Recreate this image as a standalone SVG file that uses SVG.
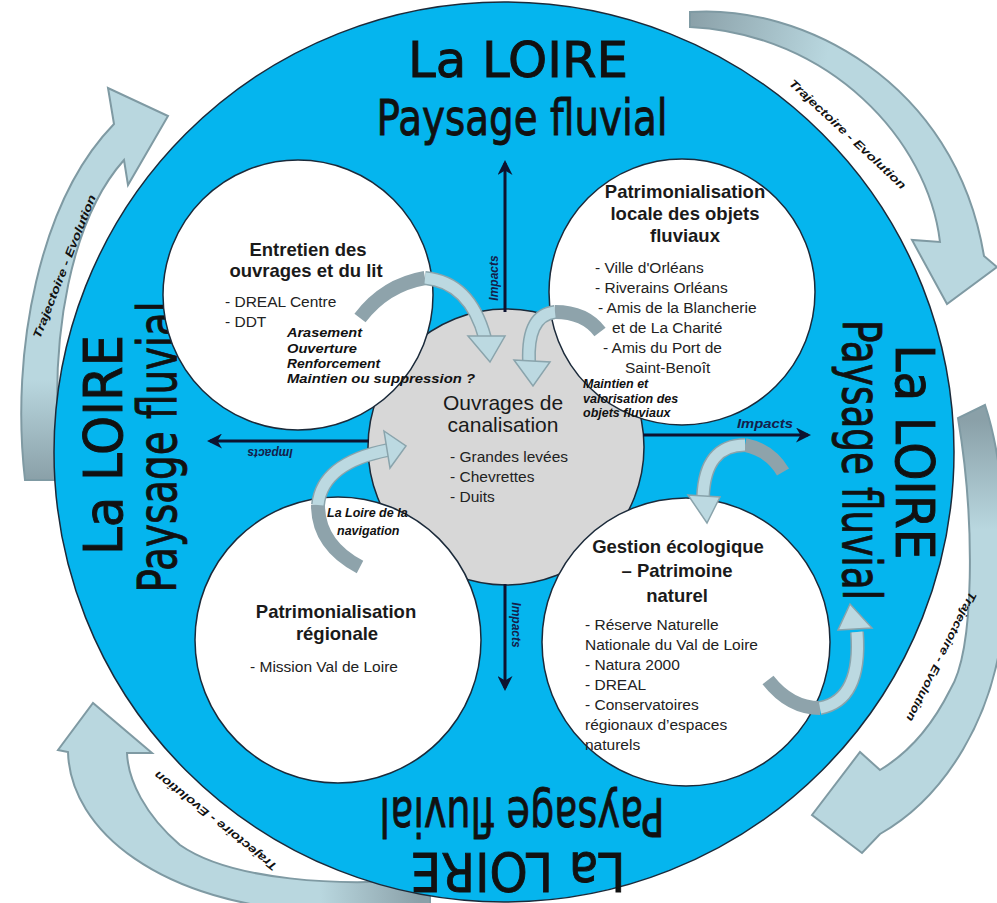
<svg xmlns="http://www.w3.org/2000/svg" width="997" height="903" viewBox="0 0 997 903">
<style>
.big{font-family:"DejaVu Sans","Liberation Sans",sans-serif;font-size:54px;fill:#111;stroke:#111;stroke-width:0.9;}
.bigt{font-family:"DejaVu Sans","Liberation Sans",sans-serif;font-size:50px;fill:#111;stroke:#111;stroke-width:0.9;}
.hd{font-family:"Liberation Sans",Arial,sans-serif;font-weight:bold;font-size:18.5px;fill:#1a1a1a;}
.ls{font-family:"Liberation Sans",Arial,sans-serif;font-size:15.5px;fill:#222;}
.it{font-family:"Liberation Sans",Arial,sans-serif;font-weight:bold;font-style:italic;font-size:12.5px;fill:#111;}
.imp{font-family:"Liberation Sans",Arial,sans-serif;font-weight:bold;font-style:italic;font-size:12px;fill:#14204a;}
.traj{font-family:"Liberation Sans",Arial,sans-serif;font-weight:bold;font-style:italic;font-size:11.5px;fill:#111;}
.circ{fill:#fff;stroke:#1b2a3a;stroke-width:1.5;}
.oarr{stroke:#7f9aa3;stroke-width:2;}
.ln{stroke:#0d1330;stroke-width:3;fill:none;}
.dk{fill:none;stroke:#8ea3ab;stroke-width:14;}
.lo{fill:none;stroke:#8aa4ac;stroke-width:14;}
.lt{fill:none;stroke:#bcd9e1;stroke-width:11;}
.hdarr{fill:#bcd9e1;stroke:#8aa4ac;stroke-width:1.5;}
</style>
<defs>
<linearGradient id="gTR" gradientUnits="userSpaceOnUse" x1="690" y1="15" x2="830" y2="45"><stop offset="0" stop-color="#8aa0a8"/><stop offset="1" stop-color="#b9d7df"/></linearGradient>
<linearGradient id="gL" gradientUnits="userSpaceOnUse" x1="40" y1="480" x2="40" y2="380"><stop offset="0" stop-color="#8aa0a8"/><stop offset="1" stop-color="#b9d7df"/></linearGradient>
<linearGradient id="gBL" gradientUnits="userSpaceOnUse" x1="420" y1="890" x2="320" y2="895"><stop offset="0" stop-color="#8aa0a8"/><stop offset="1" stop-color="#b9d7df"/></linearGradient>
<linearGradient id="gBR" gradientUnits="userSpaceOnUse" x1="980" y1="420" x2="980" y2="530"><stop offset="0" stop-color="#8aa0a8"/><stop offset="1" stop-color="#b9d7df"/></linearGradient>
<marker id="ah" viewBox="0 0 10 10" refX="8" refY="5" markerWidth="5" markerHeight="5" orient="auto"><path d="M0,0 L10,5 L0,10 L3,5 Z" fill="#0d1330"/></marker>
</defs>

<g id="outer-arrows">
<path class="oarr" fill="url(#gTR)" d="M690,12 C800,4 955,80 984,256 L997,267 L947,304 L912,240 L940,242 C928,140 830,34 690,27 Z"/>
<path class="oarr" fill="url(#gL)" d="M25,480 C10,350 40,200 114,124 L108,88 L168,116 L128,185 L124,160 C75,215 45,330 62,480 Z"/>
<path class="oarr" fill="url(#gBL)" d="M68,752 C70,830 160,905 320,912 L430,905 L430,878 C340,888 230,880 180,845 C145,815 128,780 127,753 L152,753 L93,703 L58,750 Z"/>
<path class="oarr" fill="url(#gBR)" d="M958,418 C975,520 975,650 950,690 C930,730 905,755 880,770 L860,752 L812,815 L862,853 L880,834 C940,800 1000,720 1005,600 C1008,520 1000,450 985,405 Z"/>
<text class="traj" transform="translate(845,137) rotate(43)" text-anchor="middle" textLength="155" lengthAdjust="spacingAndGlyphs">Trajectoire - Evolution</text>
<text class="traj" transform="translate(68,268) rotate(-68.6)" text-anchor="middle" textLength="153" lengthAdjust="spacingAndGlyphs">Trajectoire - Evolution</text>
<text class="traj" transform="translate(218,818) rotate(218.4)" text-anchor="middle" textLength="153" lengthAdjust="spacingAndGlyphs">Trajectoire - Evolution</text>
<text class="traj" transform="translate(938,655) rotate(116.6)" text-anchor="middle" textLength="143" lengthAdjust="spacingAndGlyphs">Trajectoire - Evolution</text>
</g>

<g id="loire">
<circle cx="504" cy="452" r="450" fill="#05b5ee" stroke="#1b2a3a" stroke-width="1.5"/>
<text class="bigt" x="518" y="77" text-anchor="middle" textLength="220" lengthAdjust="spacingAndGlyphs">La LOIRE</text>
<text class="bigt" x="522" y="135" text-anchor="middle" textLength="291" lengthAdjust="spacingAndGlyphs">Paysage fluvial</text>
<text class="big" transform="translate(122,445) rotate(-90)" text-anchor="middle" textLength="220" lengthAdjust="spacingAndGlyphs">La LOIRE</text>
<text class="big" transform="translate(176,447) rotate(-90)" text-anchor="middle" textLength="291" lengthAdjust="spacingAndGlyphs">Paysage fluvial</text>
<text class="big" transform="translate(896,452) rotate(90)" text-anchor="middle" textLength="215" lengthAdjust="spacingAndGlyphs">La LOIRE</text>
<text class="big" transform="translate(843,460) rotate(90)" text-anchor="middle" textLength="280" lengthAdjust="spacingAndGlyphs">Paysage fluvial</text>
<text class="big" transform="translate(518,853) rotate(180)" text-anchor="middle" textLength="215" lengthAdjust="spacingAndGlyphs">La LOIRE</text>
<text class="big" transform="translate(522,798) rotate(180)" text-anchor="middle" textLength="285" lengthAdjust="spacingAndGlyphs">Paysage fluvial</text>
</g>

<g id="ouvrages">
<circle cx="506" cy="447" r="138" fill="#d7d7d7" stroke="#1b2a3a" stroke-width="1.5"/>
</g>

<g id="entretien">
<circle class="circ" cx="298" cy="295" r="135"/>
</g>
<g id="patrimoine-local">
<circle class="circ" cx="682" cy="292" r="133"/>
</g>
<g id="patrimoine-regional">
<circle class="circ" cx="338" cy="640" r="143"/>
</g>
<g id="gestion">
<circle class="circ" cx="686" cy="642" r="144"/>
</g>

<g id="connectors">
<line class="ln" x1="505" y1="312" x2="505" y2="163" marker-end="url(#ah)"/>
<line class="ln" x1="505" y1="584" x2="505" y2="688" marker-end="url(#ah)"/>
<line class="ln" x1="369" y1="441" x2="210" y2="441" marker-end="url(#ah)"/>
<line class="ln" x1="643" y1="435" x2="808" y2="435" marker-end="url(#ah)"/>
<text class="imp" transform="translate(498,278) rotate(-90)" text-anchor="middle">Impacts</text>
<text class="imp" transform="translate(512,625) rotate(90)" text-anchor="middle">Impacts</text>
<text class="imp" transform="translate(270,449) rotate(180)" text-anchor="middle">Impacts</text>
<text class="imp" x="765" y="428" text-anchor="middle" textLength="56" lengthAdjust="spacingAndGlyphs">Impacts</text>

<path class="dk" d="M360,318 Q385,285 425,278"/>
<path class="lo" d="M425,278 Q470,282 485,338"/>
<path class="lt" d="M425,278 Q470,282 485,338"/>
<polygon class="hdarr" points="468,336 505,336 490,362"/>

<path class="dk" d="M600,332 Q585,312 555,312"/>
<path class="lo" d="M555,312 Q527,315 529,362"/>
<path class="lt" d="M555,312 Q527,315 529,362"/>
<polygon class="hdarr" points="514,360 550,362 533,386"/>

<path class="dk" d="M360,567 Q318,545 318,505"/>
<path class="lo" d="M318,505 Q322,463 388,450"/>
<path class="lt" d="M318,505 Q322,463 388,450"/>
<polygon class="hdarr" points="384,431 406,446 390,468"/>

<path class="dk" d="M783,472 Q770,450 745,445"/>
<path class="lo" d="M745,445 Q705,445 703,497"/>
<path class="lt" d="M745,445 Q705,445 703,497"/>
<polygon class="hdarr" points="688,495 720,497 707,523"/>

<path class="dk" d="M768,680 Q790,708 820,708"/>
<path class="lo" d="M820,708 Q862,700 857,632"/>
<path class="lt" d="M820,708 Q862,700 857,632"/>
<polygon class="hdarr" points="838,630 872,628 850,604"/>
</g>

<g id="labels">
<text class="hd" x="308" y="256" text-anchor="middle">Entretien des</text>
<text class="hd" x="306" y="277" text-anchor="middle">ouvrages et du lit</text>
<text class="ls" x="225" y="307">- DREAL Centre</text>
<text class="ls" x="225" y="327">- DDT</text>
<text class="it" x="287" y="337" textLength="75" lengthAdjust="spacingAndGlyphs">Arasement</text>
<text class="it" x="287" y="353" textLength="70" lengthAdjust="spacingAndGlyphs">Ouverture</text>
<text class="it" x="287" y="368" textLength="93" lengthAdjust="spacingAndGlyphs">Renforcement</text>
<text class="it" x="287" y="383" textLength="188" lengthAdjust="spacingAndGlyphs">Maintien ou suppression ?</text>

<text class="hd" x="685" y="198" text-anchor="middle">Patrimonialisation</text>
<text class="hd" x="685" y="220" text-anchor="middle">locale des objets</text>
<text class="hd" x="685" y="242" text-anchor="middle">fluviaux</text>
<text class="ls" x="595" y="273">- Ville d'Orléans</text>
<text class="ls" x="595" y="293">- Riverains  Orléans</text>
<text class="ls" x="598" y="313">- Amis de la Blancherie</text>
<text class="ls" x="612" y="333">et de La Charité</text>
<text class="ls" x="603" y="353">- Amis du Port de</text>
<text class="ls" x="625" y="373">Saint-Benoît</text>
<text class="it" x="583" y="388">Maintien et</text>
<text class="it" x="583" y="403">valorisation des</text>
<text class="it" x="583" y="417">objets fluviaux</text>

<text style="font-family:'Liberation Sans',Arial,sans-serif;font-size:21px;fill:#1a1a1a" x="503" y="410" text-anchor="middle">Ouvrages de</text>
<text style="font-family:'Liberation Sans',Arial,sans-serif;font-size:21px;fill:#1a1a1a" x="503" y="432" text-anchor="middle">canalisation</text>
<text class="ls" x="450" y="462">- Grandes levées</text>
<text class="ls" x="450" y="482">- Chevrettes</text>
<text class="ls" x="450" y="502">- Duits</text>

<text class="it" x="327" y="517">La Loire de la</text>
<text class="it" x="337" y="535">navigation</text>
<text class="hd" x="336" y="618" text-anchor="middle">Patrimonialisation</text>
<text class="hd" x="337" y="640" text-anchor="middle">régionale</text>
<text class="ls" x="324" y="672" text-anchor="middle">- Mission Val de Loire</text>

<text class="hd" x="678" y="553" text-anchor="middle">Gestion écologique</text>
<text class="hd" x="677" y="577" text-anchor="middle">– Patrimoine</text>
<text class="hd" x="677" y="602" text-anchor="middle">naturel</text>
<text class="ls" x="585" y="630">- Réserve Naturelle</text>
<text class="ls" x="585" y="650">Nationale du Val de Loire</text>
<text class="ls" x="585" y="670">- Natura 2000</text>
<text class="ls" x="585" y="690">- DREAL</text>
<text class="ls" x="585" y="710">- Conservatoires</text>
<text class="ls" x="585" y="730">régionaux d’espaces</text>
<text class="ls" x="585" y="750">naturels</text>
</g>
</svg>
